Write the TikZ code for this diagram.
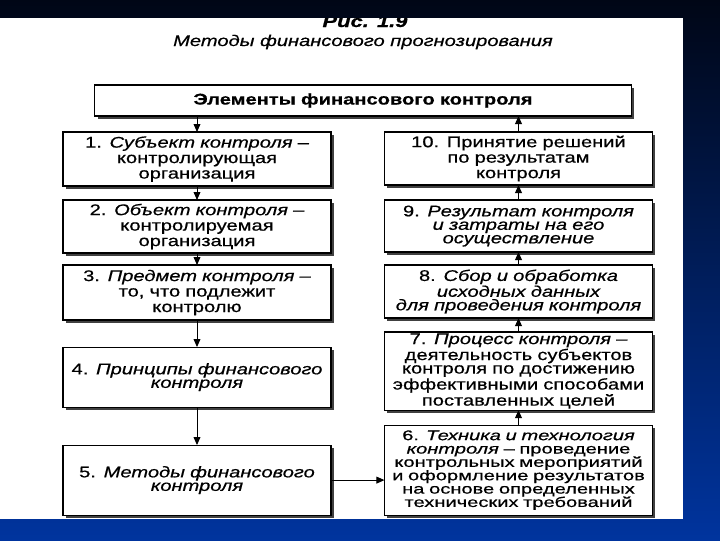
\documentclass[tikz,border=0pt]{standalone}
\usepackage{fontspec}
\setmainfont[FakeStretch=1.3, FakeBold=0.6]{Liberation Sans}
\newfontfamily\widefont[FakeStretch=1.43, FakeBold=0.6]{Liberation Sans}
\usetikzlibrary{shadows, arrows.meta, positioning}

\definecolor{bgtop}{RGB}{0,6,22}
\definecolor{bgbot}{RGB}{0,52,158}

\begin{document}
\lineskiplimit=-20pt
\begin{tikzpicture}[
    x=0.025cm, y=-0.025cm,
    font=\fontsize{11}{9.6}\selectfont,
    block/.style={rectangle, draw, line width=0.8pt, fill=white, text width=6.6cm, align=center,
        inner xsep=0.05cm, inner ysep=0.02cm, outer sep=0pt,
        drop shadow={shadow xshift=0.07cm, shadow yshift=-0.07cm, fill=black!75, opacity=1}},
    loose/.style={font=\fontsize{11}{11}\selectfont},
    dense/.style={font=\widefont\fontsize{10}{9.5}\selectfont, inner ysep=0.04cm},
    link/.style={-{Triangle[length=0.2cm, width=0.17cm]}, line width=0.7pt}
]
    % Background of the slide
    \shade[top color=bgtop, bottom color=bgbot] (0,0) rectangle (720,540);
    \fill[white] (0,18) rectangle (683,519);

    % Caption
    \begin{scope}
        \clip (0,18) rectangle (683,519);
        \node (fig) [anchor=base, font=\fontsize{12}{12}\selectfont\bfseries\itshape] at (365,27) {Рис. 1.9};
        \node (title) [anchor=base, font=\fontsize{11}{11}\selectfont\itshape] at (363,46) {Методы финансового прогнозирования};
    \end{scope}

    % Main block
    \node (elements) [block, text width=13.3cm, minimum height=0.775cm, font=\fontsize{11}{11}\selectfont\bfseries] at (363,100.5) {Элементы финансового контроля};

    % Left column
    \node (subject) [block, loose, anchor=north, minimum height=1.35cm] at (197,132) {1. \textit{Субъект контроля –}\\ контролирующая\\ организация};
    \node (object) [block, loose, below=0.35cm of subject, minimum height=1.325cm] {2. \textit{Объект контроля –}\\ контролируемая\\ организация};
    \node (matter) [block, loose, below=0.3cm of object, minimum height=1.375cm] {3. \textit{Предмет контроля –}\\ то, что подлежит\\ контролю};
    \node (principles) [block, below=0.675cm of matter, minimum height=1.5cm] {4. {\itshape Принципы финансового\\ контроля}};
    \node (methods) [block, below=0.95cm of principles, minimum height=1.75cm] {5. {\itshape Методы финансового\\ контроля}};

    % Right column
    \node (decision) [block, loose, anchor=north, minimum height=1.325cm] at (518.5,132) {10. Принятие решений\\ по результатам\\ контроля};
    \node (result) [block, below=0.375cm of decision, minimum height=1.3cm] {9. {\itshape Результат контроля\\ и затраты на его\\ осуществление}};
    \node (gathering) [block, below=0.325cm of result, minimum height=1.325cm] {8. {\itshape Сбор и обработка\\ исходных данных\\ для проведения контроля}};
    \node (process) [block, below=0.35cm of gathering, minimum height=1.95cm] {7. \textit{Процесс контроля –}\\ деятельность субъектов\\ контроля по достижению\\ эффективными способами\\ поставленных целей};
    \node (technique) [block, dense, below=0.375cm of process, minimum height=2.25cm] {6. {\itshape Техника и технология\\ контроля} – проведение\\ контрольных мероприятий\\ и оформление результатов\\ на основе определенных\\ технических требований};

    % Paths
    \draw[link] (elements.south -| subject) -- (subject);
    \draw[link] (subject) -- (object);
    \draw[link] (object) -- (matter);
    \draw[link] (matter) -- (principles);
    \draw[link] (principles) -- (methods);
    \draw[link] (methods.east) -- (methods.east -| technique.west);
    \draw[link] (technique) -- (process);
    \draw[link] (process) -- (gathering);
    \draw[link] (gathering) -- (result);
    \draw[link] (result) -- (decision);
    \draw[link] (decision) -- (decision |- elements.south);
\end{tikzpicture}
\end{document}
